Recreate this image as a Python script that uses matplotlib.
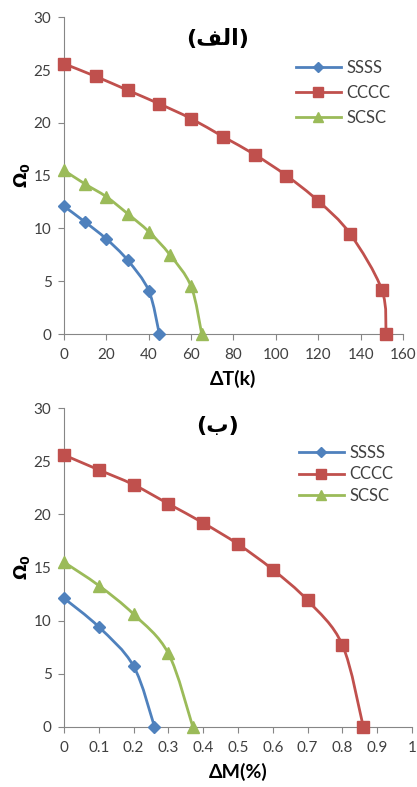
import matplotlib.pyplot as plt
from matplotlib.path import Path
from matplotlib.patches import PathPatch
from matplotlib.lines import Line2D
from matplotlib.ticker import FuncFormatter

# panel (a): temperature rise
dT_ssss = [0, 10, 20, 30, 40, 45]
om_ssss_T = [12.1, 10.6, 9.0, 7.0, 4.1, 0]
dT_cccc = [0, 15, 30, 45, 60, 75, 90, 105, 120, 135, 150, 152]
om_cccc_T = [25.6, 24.4, 23.1, 21.8, 20.4, 18.7, 17.0, 15.0, 12.6, 9.5, 4.2, 0]
dT_scsc = [0, 10, 20, 30, 40, 50, 60, 65]
om_scsc_T = [15.5, 14.2, 13.0, 11.4, 9.7, 7.5, 4.5, 0]

# panel (b): moisture rise
dM_ssss = [0, 0.1, 0.2, 0.26]
om_ssss_M = [12.1, 9.4, 5.7, 0]
dM_cccc = [0, 0.1, 0.2, 0.3, 0.4, 0.5, 0.6, 0.7, 0.8, 0.86]
om_cccc_M = [25.6, 24.2, 22.8, 21.0, 19.2, 17.2, 14.8, 11.9, 7.7, 0]
dM_scsc = [0, 0.1, 0.2, 0.3, 0.37]
om_scsc_M = [15.5, 13.3, 10.6, 6.9, 0]

labels = ["SSSS", "CCCC", "SCSC"]
colors = ["#4F81BD", "#C0504D", "#9BBB59"]
markers = ["D", "s", "^"]
msizes = [6, 8, 8]

plt.rcParams['font.family'] = ['Lato', 'DejaVu Sans']


def smooth_path(x, y):
    # Excel-like smoothed line: cubic bezier through the points (catmull-rom)
    pts = list(zip(x, y))
    n = len(pts)
    verts = [pts[0]]
    codes = [Path.MOVETO]
    for i in range(n - 1):
        p0 = pts[i - 1] if i > 0 else pts[i]
        p1 = pts[i]
        p2 = pts[i + 1]
        p3 = pts[i + 2] if i + 2 < n else pts[i + 1]
        c1 = (p1[0] + (p2[0] - p0[0]) / 6, p1[1] + (p2[1] - p0[1]) / 6)
        c2 = (p2[0] - (p3[0] - p1[0]) / 6, p2[1] - (p3[1] - p1[1]) / 6)
        verts += [c1, c2, p2]
        codes += [Path.CURVE4] * 3
    return Path(verts, codes)


def draw(ax, series):
    for (x, y), c, m, ms in zip(series, colors, markers, msizes):
        ax.add_patch(PathPatch(smooth_path(x, y), fill=False, edgecolor=c,
                               linewidth=2, clip_on=False, zorder=2))
        ax.plot(x, y, color=c, marker=m, markersize=ms, linestyle="none",
                clip_on=False, zorder=3)


def style(ax):
    for s in ["top", "right"]:
        ax.spines[s].set_visible(False)
    for s in ["left", "bottom"]:
        ax.spines[s].set_color("#868686")
        ax.spines[s].set_linewidth(0.8)
    ax.tick_params(colors="#868686", labelcolor="#404040", labelsize=11,
                   length=4, width=0.8)
    ax.tick_params(axis="x", pad=6)
    ax.tick_params(axis="y", pad=5)
    ax.set_ylim(0, 30)
    ax.set_yticks(range(0, 31, 5))
    ax.set_ylabel(r"$\mathbf{\Omega_0}$", fontsize=13, labelpad=1)


def legend(ax, anchor, spacing):
    handles = [Line2D([], [], color=c, marker=m, markersize=ms - 1, linewidth=2)
               for c, m, ms in zip(colors, markers, msizes)]
    ax.legend(handles, labels, loc="upper right", bbox_to_anchor=anchor, frameon=False,
              fontsize=12, handlelength=2.7, labelspacing=spacing, handletextpad=0.35,
              labelcolor="#404040")


fig = plt.figure(figsize=(4.17, 7.87), dpi=100)
ax1 = fig.add_axes([0.1535, 0.5756, 0.8129, 0.4024])
ax2 = fig.add_axes([0.1535, 0.0766, 0.8345, 0.4046])

draw(ax1, [(dT_ssss, om_ssss_T), (dT_cccc, om_cccc_T), (dT_scsc, om_scsc_T)])
style(ax1)
ax1.set_xlim(0, 160)
ax1.set_xticks(range(0, 161, 20))
ax1.set_xlabel("ΔT(k)", fontsize=14, fontweight="bold", labelpad=6)
ax1.text(0.454, 0.93, "(\uFED2\uFEDF\uFE8D)", transform=ax1.transAxes, ha="center",
         va="center", fontsize=16, fontweight="bold", family=["DejaVu Sans"])
legend(ax1, (1.008, 0.913), 0.55)

draw(ax2, [(dM_ssss, om_ssss_M), (dM_cccc, om_cccc_M), (dM_scsc, om_scsc_M)])
style(ax2)
ax2.set_xlim(0, 1)
ax2.set_xticks([i / 10 for i in range(11)])
ax2.xaxis.set_major_formatter(FuncFormatter(lambda v, p: "%g" % round(v, 1)))
ax2.set_xlabel("ΔM(%)", fontsize=14, fontweight="bold", labelpad=6)
ax2.text(0.442, 0.945, "(\uFE8F)", transform=ax2.transAxes, ha="center",
         va="center", fontsize=16, fontweight="bold", family=["DejaVu Sans"])
legend(ax2, (0.99, 0.932), 0.33)

fig.savefig("out.png", dpi=100)
